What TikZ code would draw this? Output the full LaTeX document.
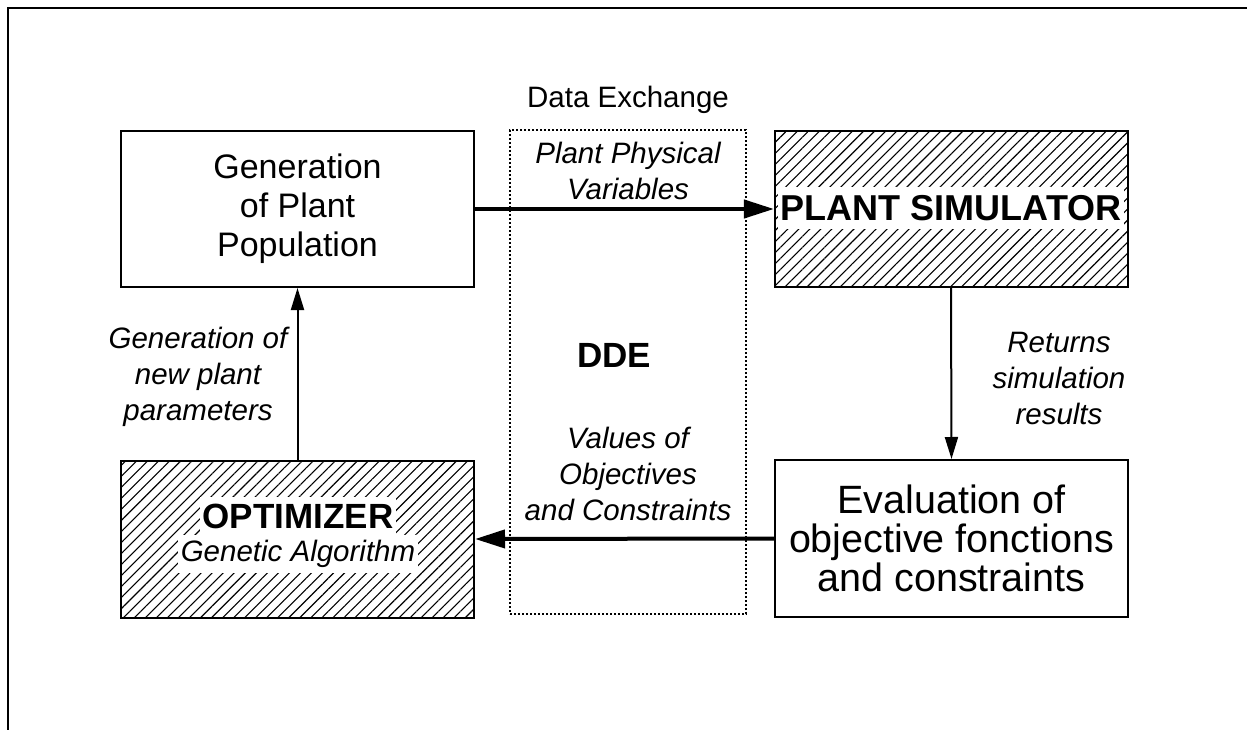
\documentclass[tikz,border=0pt]{standalone}
\usepackage{fontspec}
\setmainfont{Liberation Sans}
\usetikzlibrary{arrows.meta,patterns.meta}
\tikzset{
  box/.style={draw, line width=2pt, minimum width=353pt, minimum height=156pt, align=center, inner sep=0pt,
    font=\fontsize{34}{39}\selectfont},
  hatched/.style={box, pattern={Lines[angle=45,distance=7.8pt,line width=1.1pt]}},
  lbl/.style={align=center, font=\fontsize{29.5}{36}\selectfont\itshape, inner sep=0pt},
  whitelbl/.style={fill=white, inner sep=3pt},
  bigarrow/.style={line width=4pt, -{Triangle[length=30pt,width=18pt]}},
  thinarrow/.style={line width=2pt, -{Triangle[length=22pt,width=13pt]}}
}
\begin{document}
\begin{tikzpicture}[x=1pt,y=-1pt]
\path[use as bounding box] (0,0) rectangle (1247,730);
\clip (0,0) rectangle (1247,730);
% outer frame
\draw[line width=2.6pt] (8,745) -- (8,8) -- (1260,8);
% data exchange dotted box
\node[draw, dotted, line width=2pt, minimum width=236pt, minimum height=484pt, inner sep=0pt] (dde) at (628,372) {};
\node[font=\fontsize{29.5}{36}\selectfont, inner sep=0pt] (dx) at (628,100) {Data Exchange};
\node[font=\fontsize{35}{40}\selectfont\bfseries, inner sep=0pt] (ddel) at (614,355) {DDE};
% boxes
\node[box] (gen) at (297.5,209) {Generation\\of Plant\\Population};
\node[hatched] (sim) at (951,209) {};
\node[font=\fontsize{36}{40}\selectfont\bfseries, whitelbl, minimum width=338pt, minimum height=42pt] (simt) at (951,208) {PLANT SIMULATOR};
\node[hatched, minimum height=157pt] (opt) at (297.5,539) {};
\node[font=\fontsize{35}{40}\selectfont\bfseries, whitelbl, minimum height=38pt] (optt) at (298,516) {OPTIMIZER};
\node[font=\fontsize{29.5}{36}\selectfont\itshape, whitelbl, minimum height=38pt] (optg) at (298,554) {Genetic Algorithm};
\node[box, minimum height=157pt, font=\fontsize{39.5}{39}\selectfont] (eval) at (951.5,538.5) {Evaluation of\\objective fonctions\\and constraints};
% connectors
\draw[bigarrow, line cap=round] (gen.east) -- (sim.west);
\draw[bigarrow] (eval.west) -- (opt.east);
\draw[thinarrow] (sim.south) -- (eval.north);
\draw[thinarrow] (opt.north) -- (gen.south);
% labels
\node[lbl] (l1) at (628,171) {Plant Physical\\Variables};
\node[lbl] (l2) at (628,474) {Values of\\Objectives\\and Constraints};
\node[lbl] (l3) at (1059,378) {Returns\\simulation\\results};
\node[lbl] (l4) at (198,377) {Generation of\\new plant\\parameters};
\end{tikzpicture}
\end{document}
